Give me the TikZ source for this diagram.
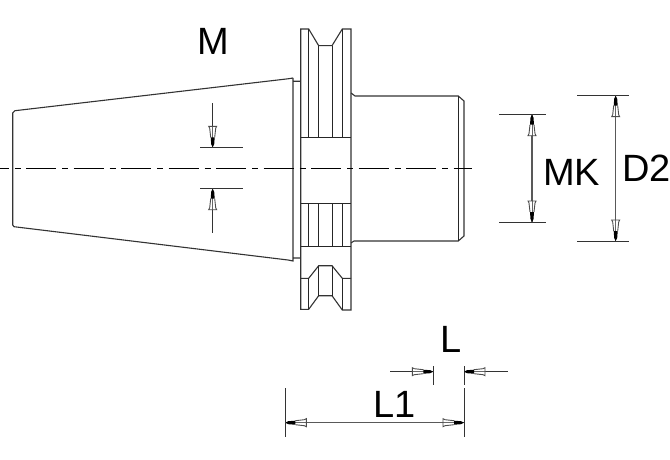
\documentclass[tikz,border=0pt]{standalone}
\usepackage{fontspec}
\setmainfont{Liberation Sans}
\tikzset{
  part/.style={draw=black!80,line width=1.1pt,line join=miter},
  thin part/.style={draw=black!85,line width=1pt},
  centre/.style={draw=black,line width=1pt,dash pattern=on 30pt off 6pt on 6pt off 5.5pt,dash phase=21.5pt},
  dimline/.style={draw=black!65,line width=1.1pt},
  extline/.style={draw=black!80,line width=1pt},
  lab/.style={inner sep=0pt,anchor=base west,font=\fontsize{38}{38}\selectfont},
  pics/tip/.style={code={
    \fill[white] (0,0)--(-9,-2)--(-21,-3.6)--(-21,3.6)--(-9,2)--cycle;
    \draw[black!60,line width=0.9pt] (-21,0)--(0,0);
    \draw[black!70,line width=0.9pt] (-10,-2)--(-19,-3)--(-21,-4)--(-21,4)--(-19,3)--(-10,2);
    \fill[black] (0,0)--(-3,-1.5)--(-10,-2)--(-10,2)--(-3,1.5)--cycle;
  }}
}
\begin{document}
\begin{tikzpicture}[x=1pt,y=-1pt]
\useasboundingbox[fill=white] (0,0) rectangle (670,460);
% taper
\draw[part] (293,78) -- (288,78.8) -- (15,110.7) -- (12.7,113) -- (12.7,225) -- (14,226.7) -- (288,260) -- (293,261) -- (293,78) (293,81.3) -- (300.7,81.3) (293,258) -- (300.7,258);
% flange
\draw[part] (300.7,309.3) -- (300.7,29) -- (308.7,29) -- (318.7,45.7) -- (332,45.7) -- (342.3,29) -- (351,29) -- (351,310) -- (342.3,310) -- (332,295.7) -- (318.7,295.7) -- (308.7,309.3) -- cycle;
\draw[part] (300.7,278.3) -- (308.7,278.3) -- (318.7,265.7) -- (332,265.7) -- (342.3,278.3) -- (351,278.3);
\draw[thin part] (300.7,137.3) -- (351,137.3) (300.7,203.3) -- (351,203.3) (300.7,246.7) -- (351,246.7);
\foreach \x in {308.7,318.7,332,342.3} {
  \draw[thin part] (\x,203.3) -- (\x,246.7);
}
\draw[thin part] (308.7,29) -- (308.7,137.3) (318.7,45.7) -- (318.7,137.3) (332,45.7) -- (332,137.3) (342.3,29) -- (342.3,137.3);
\draw[thin part] (308.7,278.3) -- (308.7,309.3) (318.7,265.7) -- (318.7,295.7) (332,265.7) -- (332,295.7) (342.3,278.3) -- (342.3,310);
% shank
\draw[part] (351,93) -- (355,96) -- (458.3,96) -- (464,101) -- (464,236) -- (458.3,241) -- (354,241) -- (351,243);
\draw[thin part] (458.3,96) -- (458.3,241);
% centre line
\draw[centre] (0,168.7) -- (472,168.7);
% M dimension
\coordinate (mta) at (212.7,103.3);
\coordinate (mtb) at (212.7,147.3);
\coordinate (mba) at (212.7,232.7);
\coordinate (mbb) at (212.7,188.7);
\draw[extline] (200,147.3) -- (243.3,147.3) (200,188.7) -- (243.3,188.7);
\draw[extline] (mta) -- (mtb) (mba) -- (mbb);
\pic[rotate=-90] at (mtb) {tip};
\pic[rotate=90] at (mbb) {tip};
% MK dimension
\coordinate (mka) at (532,114.7);
\coordinate (mkb) at (532,222);
\draw[extline] (499.3,114.7) -- (545.7,114.7) (499.3,222) -- (545.7,222);
\draw[dimline] (mka) -- (mkb);
\pic[rotate=90] at (mka) {tip};
\pic[rotate=-90] at (mkb) {tip};
% D2 dimension
\coordinate (da) at (615.7,95.7);
\coordinate (db) at (615.7,241);
\draw[extline] (577.3,95.7) -- (629.3,95.7) (577.3,241) -- (629.3,241);
\draw[dimline] (da) -- (db);
\pic[rotate=90] at (da) {tip};
\pic[rotate=-90] at (db) {tip};
% L dimension
\coordinate (la) at (433.3,371.7);
\coordinate (lb) at (464,371.7);
\draw[extline] (433.3,366) -- (433.3,385) (464,366) -- (464,385);
\draw[extline] (390,371.7) -- (la) (lb) -- (507.7,371.7);
\pic at (la) {tip};
\pic[rotate=180] at (lb) {tip};
% L1 dimension
\coordinate (lia) at (285.3,422.7);
\coordinate (lib) at (464,422.7);
\draw[extline] (285.3,388.3) -- (285.3,436.7) (464,388.3) -- (464,436.7);
\draw[dimline] (lia) -- (lib);
\pic[rotate=180] at (lia) {tip};
\pic at (lib) {tip};
% labels
\node[lab] (tM) at (197.5,55) {M};
\node[lab] (tMK) at (543,185) {MK};
\node[lab] (tD) at (622,181) {D2};
\node[lab] (tL) at (440,352.3) {L};
\node[lab] (tLi) at (373,417.7) {L1};
\end{tikzpicture}
\end{document}
